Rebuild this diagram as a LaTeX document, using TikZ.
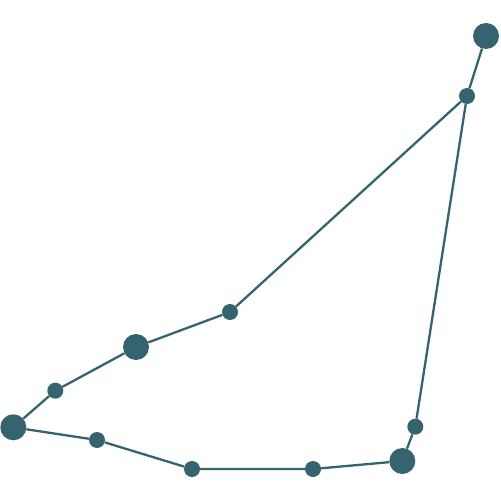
\documentclass[tikz,border=0pt]{standalone}
\definecolor{teal1}{HTML}{36646E}
\begin{document}
\begin{tikzpicture}[x=1bp,y=-1bp,
  big/.style={circle,fill=teal1,inner sep=0pt,minimum size=26bp},
  small/.style={circle,fill=teal1,inner sep=0pt,minimum size=16bp},
  edge/.style={draw=teal1,line width=2.3bp}]
\useasboundingbox (0,0) rectangle (500,500);
\node[big] (a) at (486,36) {};
\node[small] (b) at (467,96) {};
\node[small] (c) at (230,312) {};
\node[big] (d) at (136,347) {};
\node[small] (e) at (55.3,390.7) {};
\node[big] (f) at (13.3,427.3) {};
\node[small] (g) at (97,440) {};
\node[small] (h) at (192,469) {};
\node[small] (i) at (313,469) {};
\node[big] (j) at (402.3,461) {};
\node[small] (k) at (415.3,426.7) {};
\begin{scope}[on background layer/.style={}]
\end{scope}
\draw[edge] (a) -- (b) -- (c) -- (d) -- (e) -- (f) -- (g) -- (h) -- (i) -- (j) -- (k) -- (b);
\end{tikzpicture}
\end{document}
